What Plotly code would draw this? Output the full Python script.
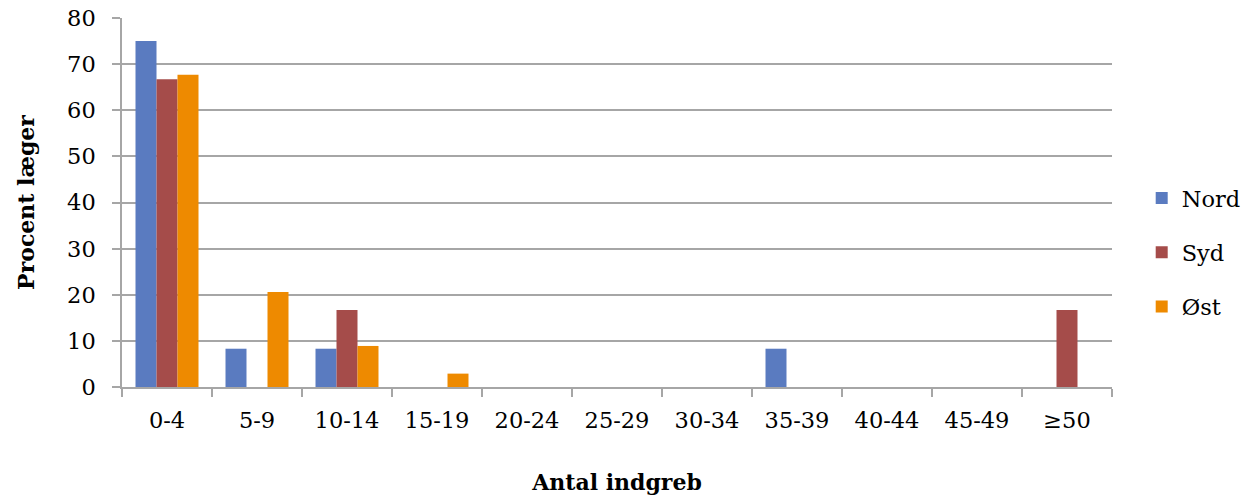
import plotly.graph_objects as go

categories = ["0-4", "5-9", "10-14", "15-19", "20-24", "25-29", "30-34", "35-39", "40-44", "45-49", "≥50"]
nord = [75.0, 8.3, 8.3, 0, 0, 0, 0, 8.3, 0, 0, 0]
syd = [66.7, 0, 16.7, 0, 0, 0, 0, 0, 0, 0, 16.7]
ost = [67.7, 20.6, 8.9, 2.9, 0, 0, 0, 0, 0, 0, 0]
y_ticks = [0, 10, 20, 30, 40, 50, 60, 70, 80]

FONT = "DejaVu Serif"
GRID = "#A6A6A6"

fig = go.Figure()
series = [("Nord", nord, "#5A7BC0"), ("Syd", syd, "#A54C4A"), ("Øst", ost, "#EE8A00")]
for name, vals, col in series:
    fig.add_trace(go.Bar(x=categories, y=vals, name=name, legendgroup=name,
                         marker=dict(color=col, line=dict(width=0))))

fig.update_layout(
    width=1252, height=495,
    margin=dict(l=122, r=140, t=18, b=108, autoexpand=False),
    paper_bgcolor="white", plot_bgcolor="white",
    barmode="group", bargap=0.3, bargroupgap=0,
    font=dict(family=FONT, size=22.5, color="black"),
    showlegend=True,
    legend=dict(x=1.03, y=0.365, xanchor="left", yanchor="middle",
                font=dict(family=FONT, size=22.5), tracegroupgap=22,
                bgcolor="rgba(0,0,0,0)", itemwidth=30),
)
fig.update_xaxes(
    type="category", showline=True, linecolor=GRID, linewidth=1.5,
    ticks="outside", tickson="boundaries", ticklen=8, tickcolor=GRID, tickwidth=1.5,
    showgrid=False, ticklabelstandoff=12,
    title=dict(text="<b>Antal indgreb</b>", font=dict(family=FONT, size=22), standoff=46),
)
fig.update_yaxes(
    range=[0, 80], tickvals=y_ticks, showline=True, linecolor=GRID, linewidth=1.5,
    ticks="outside", ticklen=8, tickcolor=GRID, tickwidth=1.5,
    showgrid=True, gridcolor=GRID, gridwidth=1.5, zeroline=False,
    ticklabelstandoff=12,
    title=dict(text="<b>Procent læger</b>", font=dict(family=FONT, size=22), standoff=26),
)

fig.write_html("out.html")
